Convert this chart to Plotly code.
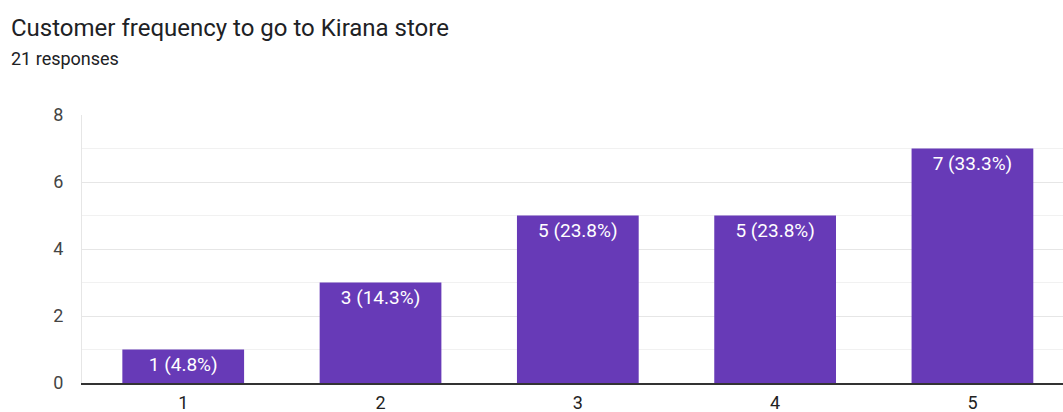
import plotly.graph_objects as go

categories = ["1", "2", "3", "4", "5"]
counts = [1, 3, 5, 5, 7]
total_responses = 21
y_ticks = [0, 2, 4, 6, 8]

x_pos = [int(c) for c in categories]
labels = [f"{v} ({v / total_responses * 100:.1f}%)" for v in counts]

FONT = "Roboto, Arial, sans-serif"
L, R, T, B = 82, 0, 115, 29
W, H = 1063, 412
plot_w = W - L - R
plot_h = H - T - B

fig = go.Figure(
    go.Bar(
        x=x_pos,
        y=counts,
        text=labels,
        textposition="inside",
        insidetextanchor="end",
        textangle=0,
        textfont=dict(family=FONT, size=19, color="#ffffff"),
        marker=dict(color="#673ab7", line=dict(width=0)),
        width=0.617,
        cliponaxis=False,
        hoverinfo="skip",
    )
)

fig.update_layout(
    width=W,
    height=H,
    margin=dict(l=L, r=R, t=T, b=B),
    paper_bgcolor="#ffffff",
    plot_bgcolor="#ffffff",
    showlegend=False,
    font=dict(family=FONT, color="#222222"),
)

fig.update_xaxes(
    range=[0.487, 5.459],
    tickvals=x_pos,
    ticktext=categories,
    showgrid=False,
    zeroline=False,
    showline=True,
    linecolor="#333333",
    linewidth=1.5,
    ticks="",
    tickfont=dict(size=18, color="#222222"),
    ticklabelstandoff=3,
)

fig.update_yaxes(
    range=[0, 8],
    tickvals=y_ticks,
    showgrid=True,
    gridcolor="#e6e6e6",
    gridwidth=1,
    minor=dict(dtick=1, showgrid=True, gridcolor="#f1f1f1", gridwidth=1),
    zeroline=False,
    showline=True,
    linecolor="#e6e6e6",
    linewidth=1,
    ticks="",
    tickfont=dict(size=18, color="#444444"),
    ticklabelstandoff=14,
)

fig.add_annotation(
    text="Customer frequency to go to Kirana store",
    xref="paper", yref="paper", x=(9 - L) / plot_w, y=1 + (T - 28) / plot_h,
    xanchor="left", yanchor="middle", showarrow=False,
    font=dict(family=FONT, size=24, color="#202124"),
)
fig.add_annotation(
    text=f"{total_responses} responses",
    xref="paper", yref="paper", x=(9 - L) / plot_w, y=1 + (T - 58) / plot_h,
    xanchor="left", yanchor="middle", showarrow=False,
    font=dict(family=FONT, size=18, color="#202124"),
)

fig.write_html("out.html")
